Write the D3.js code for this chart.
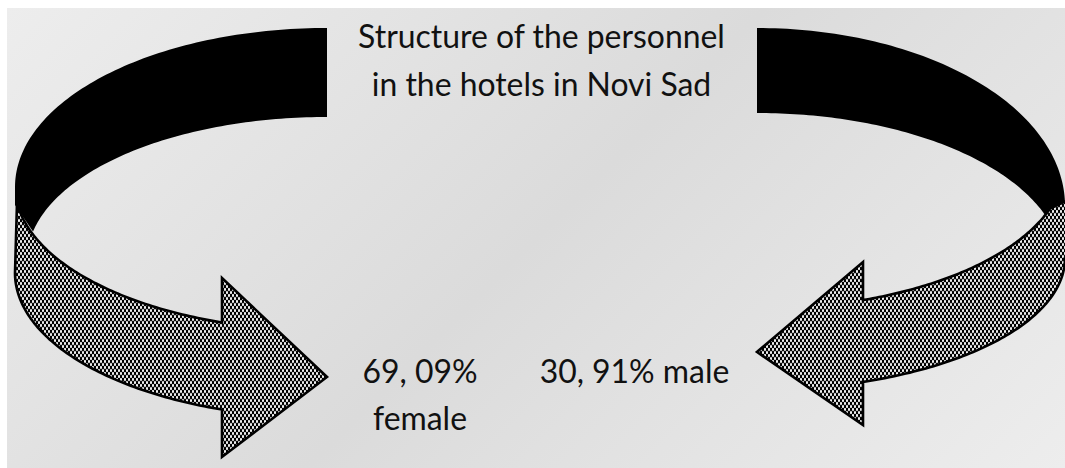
<!DOCTYPE html>
<html>
<head>
<meta charset="utf-8">
<script src="https://cdn.jsdelivr.net/npm/d3@7"></script>
<style>
  html, body { margin: 0; padding: 0; background: #ffffff; }
  svg { display: block; }
</style>
</head>
<body>
<div id="chart"></div>
<script>
// ---- data ----
const categories = ["female", "male"];
const shares = [69.09, 30.91];
const titleLines = ["Structure of the personnel", "in the hotels in Novi Sad"];
const wrapLabel = [true, false];

// ---- layout ----
const W = 1065, H = 468;
const svg = d3.select("#chart").append("svg").attr("width", W).attr("height", H);
const defs = svg.append("defs");

const grad = defs.append("linearGradient").attr("id", "bg")
  .attr("gradientUnits", "userSpaceOnUse")
  .attr("x1", 7).attr("y1", 8).attr("x2", 766).attr("y2", 767);
grad.append("stop").attr("offset", 0).attr("stop-color", "#ededed");
grad.append("stop").attr("offset", 0.5).attr("stop-color", "#dbdbdb");
grad.append("stop").attr("offset", 1).attr("stop-color", "#ededed");

const pat = defs.append("pattern").attr("id", "mesh")
  .attr("patternUnits", "userSpaceOnUse").attr("width", 4).attr("height", 6);
pat.append("rect").attr("width", 4).attr("height", 6).attr("fill", "#000");
pat.append("ellipse").attr("cx", 1).attr("cy", 1.5).attr("rx", 0.95).attr("ry", 1.7).attr("fill", "#fff");
pat.append("ellipse").attr("cx", 3).attr("cy", 4.5).attr("rx", 0.95).attr("ry", 1.7).attr("fill", "#fff");

svg.append("rect").attr("x", 7).attr("y", 8).attr("width", W - 7).attr("height", H - 8)
  .attr("fill", "url(#bg)");

// ellipse helpers
function arcPts(e, t0, t1, n = 80) {
  return d3.range(n + 1).map(i => {
    const t = t0 + (t1 - t0) * i / n;
    return [e.cx + e.rx * Math.cos(t), e.cy + e.ry * Math.sin(t)];
  });
}
function thetaAt(e, x, lower) {
  const c = Math.max(-1, Math.min(1, (x - e.cx) / e.rx));
  const a = Math.acos(c);
  return lower ? a : -a;
}
const line = d3.line();
const closed = pts => line(pts) + "Z";

// ---- shapes (one curved arrow per category) ----
const shapes = [
  { // female: left arrow pointing right
    O: {cx: 327, cy: 187, rx: 312, ry: 159},
    I: {cx: 327, cy: 260, rx: 300, ry: 143},
    U: {cx: 327, cy: 186, rx: 312, ry: 145},
    L: {cx: 327, cy: 273, rx: 312, ry: 145},
    build(s) {
      const black = [
        ...arcPts(s.O, -Math.PI / 2, -Math.PI),
        [15, 205],
        ...arcPts(s.I, thetaAt(s.I, 33, false), -Math.PI / 2)
      ];
      const tb = thetaAt(s.U, 222, true);
      const yU = s.U.cy + s.U.ry * Math.sin(tb);
      const hatch = [
        ...arcPts(s.U, thetaAt(s.U, 17, true), tb),
        [222, 278], [327, 377], [222, 457],
        ...arcPts(s.L, thetaAt(s.L, 222, true), Math.PI)
      ];
      return {black, hatch};
    }
  },
  { // male: right arrow pointing left
    O: {cx: 757, cy: 206, rx: 308, ry: 178},
    I: {cx: 757, cy: 265, rx: 305, ry: 152},
    U: {cx: 757, cy: 164, rx: 308, ry: 145},
    L: {cx: 757, cy: 258, rx: 308, ry: 132},
    build(s) {
      const black = [
        ...arcPts(s.O, -Math.PI / 2, 0),
        [1068, 206], [1068, 216],
        ...arcPts(s.I, thetaAt(s.I, 1045, false), -Math.PI / 2)
      ];
      const hatch = [
        [1068, 200],
        ...arcPts(s.U, thetaAt(s.U, 1050, true), thetaAt(s.U, 863, true)),
        [863, 262], [757, 352], [863, 425],
        ...arcPts(s.L, thetaAt(s.L, 863, true), 0),
        [1068, 258]
      ];
      return {black, hatch};
    }
  }
];

const g = svg.append("g");
const arrows = g.selectAll("g.arrow").data(categories).join("g").attr("class", "arrow");
arrows.each(function (cat, i) {
  const geo = shapes[i].build(shapes[i]);
  const sel = d3.select(this);
  sel.append("path").attr("d", closed(geo.black)).attr("fill", "#000");
  sel.append("path").attr("d", closed(geo.hatch)).attr("fill", "url(#mesh)")
    .attr("stroke", "#000").attr("stroke-width", 2.6).attr("stroke-linejoin", "miter");
});

// ---- text ----
const fontFamily = "Lato, 'Open Sans', sans-serif";
// calibrate font size so that the first title line is ~367px wide
const probe = svg.append("text").attr("font-family", fontFamily).attr("font-size", 34).text(titleLines[0]);
const w34 = probe.node().getComputedTextLength();
probe.remove();
const fs = 34 * 367 / w34;

svg.append("g").selectAll("text").data(titleLines).join("text")
  .attr("x", 541.5).attr("y", (d, i) => 48 + i * 48)
  .attr("text-anchor", "middle")
  .attr("font-family", fontFamily).attr("font-size", fs).attr("fill", "#111")
  .text(d => d);

const fmt = v => d3.format(".2f")(v).replace(".", ", ") + "%";
const labelX = [420, 634.5];
const labels = svg.append("g").selectAll("text").data(categories).join("text")
  .attr("text-anchor", "middle")
  .attr("font-family", fontFamily).attr("font-size", fs).attr("fill", "#111");
labels.each(function (cat, i) {
  const t = d3.select(this);
  const lines = wrapLabel[i] ? [fmt(shares[i]), cat] : [fmt(shares[i]) + " " + cat];
  t.selectAll("tspan").data(lines).join("tspan")
    .attr("x", labelX[i]).attr("y", (d, j) => 383 + j * 47)
    .text(d => d);
});
</script>
</body>
</html>
